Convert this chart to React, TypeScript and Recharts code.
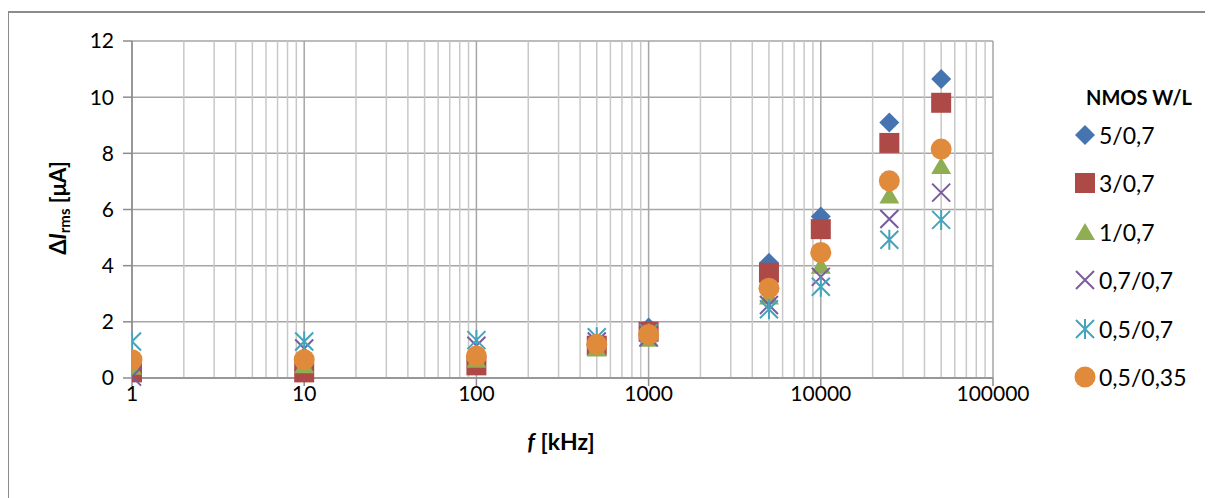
import React from "react";
import {
  ScatterChart,
  Scatter,
  XAxis,
  YAxis,
  CartesianGrid,
  ReferenceLine,
} from "recharts";

// frequencies in kHz
const freqs = [1, 10, 100, 500, 1000, 5000, 10000, 25000, 50000];

// delta I rms [uA] for each NMOS W/L
const w5_07 = [0.25, 0.3, 0.6, 1.2, 1.8, 4.1, 5.75, 9.1, 10.65];
const w3_07 = [0.2, 0.2, 0.45, 1.15, 1.65, 3.75, 5.3, 8.37, 9.8];
const w1_07 = [0.4, 0.45, 0.65, 1.05, 1.4, 2.9, 4.0, 6.5, 7.55];
const w07_07 = [0.05, 1.05, 1.15, 1.3, 1.45, 2.6, 3.6, 5.66, 6.6];
const w05_07 = [1.3, 1.3, 1.35, 1.45, 1.6, 2.45, 3.25, 4.92, 5.63];
const w05_035 = [0.65, 0.65, 0.78, 1.2, 1.55, 3.2, 4.47, 7.02, 8.15];

const xTicks = [1, 10, 100, 1000, 10000, 100000];
const minorTicks = xTicks
  .slice(0, -1)
  .flatMap((d) => [2, 3, 4, 5, 6, 7, 8, 9].map((m) => d * m));
const yTicks = [0, 2, 4, 6, 8, 10, 12];

const FONT = "Lato, 'Open Sans', sans-serif";
const FS = 21;

type Shape = "diamond" | "square" | "triangle" | "x" | "star" | "circle";

const drawMarker = (shape: Shape, cx: number, cy: number, color: string) => {
  switch (shape) {
    case "diamond":
      return (
        <path
          d={`M${cx},${cy - 10}L${cx + 10},${cy}L${cx},${cy + 10}L${cx - 10},${cy}Z`}
          fill={color}
        />
      );
    case "square":
      return <rect x={cx - 10} y={cy - 10} width={20} height={20} fill={color} />;
    case "triangle":
      return (
        <path
          d={`M${cx},${cy - 9}L${cx + 10},${cy + 8}L${cx - 10},${cy + 8}Z`}
          fill={color}
        />
      );
    case "x":
      return (
        <path
          d={`M${cx - 9},${cy - 9}L${cx + 9},${cy + 9}M${cx - 9},${cy + 9}L${cx + 9},${cy - 9}`}
          stroke={color}
          strokeWidth={2}
          fill="none"
        />
      );
    case "star":
      return (
        <path
          d={`M${cx - 9},${cy - 9}L${cx + 9},${cy + 9}M${cx - 9},${cy + 9}L${cx + 9},${cy - 9}M${cx},${cy - 10}L${cx},${cy + 10}`}
          stroke={color}
          strokeWidth={2}
          fill="none"
        />
      );
    default:
      return <circle cx={cx} cy={cy} r={10.5} fill={color} />;
  }
};

const series: { name: string; values: number[]; color: string; shape: Shape }[] = [
  { name: "5/0,7", values: w5_07, color: "#4674B0", shape: "diamond" },
  { name: "3/0,7", values: w3_07, color: "#AD4A48", shape: "square" },
  { name: "1/0,7", values: w1_07, color: "#8FAE54", shape: "triangle" },
  { name: "0,7/0,7", values: w07_07, color: "#7A5C9E", shape: "x" },
  { name: "0,5/0,7", values: w05_07, color: "#45A3BB", shape: "star" },
  { name: "0,5/0,35", values: w05_035, color: "#E08A3C", shape: "circle" },
];

const LegendBox = () => (
  <div
    style={{
      position: "absolute",
      left: 1074 - 8,
      top: 85 - 8,
      width: 139,
      fontFamily: FONT,
      color: "#000",
    }}
  >
    <div style={{ fontWeight: 700, fontSize: 20, marginLeft: 12, lineHeight: "24px" }}>
      NMOS W/L
    </div>
    {series.map((s, i) => (
      <div
        key={s.name}
        style={{
          position: "absolute",
          top: 50 + i * 48.4 - 14,
          left: 0,
          height: 28,
          display: "flex",
          alignItems: "center",
          fontSize: 23,
          whiteSpace: "nowrap",
        }}
      >
        <svg width={22} height={24}>
          {drawMarker(s.shape, 11, 12, s.color)}
        </svg>
        <span style={{ marginLeft: 3 }}>{s.name}</span>
      </div>
    ))}
  </div>
);

export default function App() {
  return (
    <div
      style={{
        position: "relative",
        width: 1205,
        height: 490,
        overflow: "hidden",
        background: "#fff",
      }}
    >
      <div
        style={{
          position: "absolute",
          left: -1,
          top: 3,
          width: 1400,
          height: 800,
          border: "2px solid #8c8c8c",
        }}
      />
      <ScatterChart
        width={1205}
        height={490}
        margin={{ top: 33, right: 220, bottom: 90, left: 64 }}
        style={{ position: "absolute", left: 0, top: 0 }}
      >
        {minorTicks.map((t) => (
          <ReferenceLine key={t} x={t} stroke="#c8c8c8" strokeWidth={1.5} />
        ))}
        <CartesianGrid stroke="#a6a6a6" strokeWidth={1.5} />
        <XAxis
          type="number"
          dataKey="x"
          scale="log"
          domain={[1, 100000]}
          ticks={xTicks}
          allowDataOverflow
          stroke="#8c8c8c"
          strokeWidth={1.5}
          tickSize={8}
          tickMargin={0}
          height={30}
          tick={{ fill: "#000", fontSize: FS, fontFamily: FONT }}
          label={{
            content: () => (
              <text
                x={561 - 8}
                y={450 - 8}
                textAnchor="middle"
                fontFamily={FONT}
                fontSize={23}
                fontWeight={700}
                fill="#000"
              >
                <tspan fontStyle="italic">f</tspan> [kHz]
              </text>
            ),
          }}
        />
        <YAxis
          type="number"
          dataKey="y"
          domain={[0, 12]}
          ticks={yTicks}
          width={60}
          stroke="#8c8c8c"
          strokeWidth={1.5}
          tickSize={9}
          tickMargin={9}
          tick={{ fill: "#000", fontSize: FS, fontFamily: FONT }}
          label={{
            content: () => (
              <text
                transform={`translate(${66 - 8},${208 - 8}) rotate(-90)`}
                textAnchor="middle"
                fontFamily={FONT}
                fontSize={22}
                fontWeight={700}
                fill="#000"
              >
                Δ<tspan fontStyle="italic">I</tspan>
                <tspan fontSize={15} dy={4}>
                  rms
                </tspan>
                <tspan dy={-4}> [μA]</tspan>
              </text>
            ),
          }}
        />
        {series.map((s) => (
          <Scatter
            key={s.name}
            name={s.name}
            data={freqs.map((f, i) => ({ x: f, y: s.values[i] }))}
            fill={s.color}
            isAnimationActive={false}
            shape={(p: any) => drawMarker(s.shape, p.cx, p.cy, s.color)}
          />
        ))}
      </ScatterChart>
      <LegendBox />
    </div>
  );
}
